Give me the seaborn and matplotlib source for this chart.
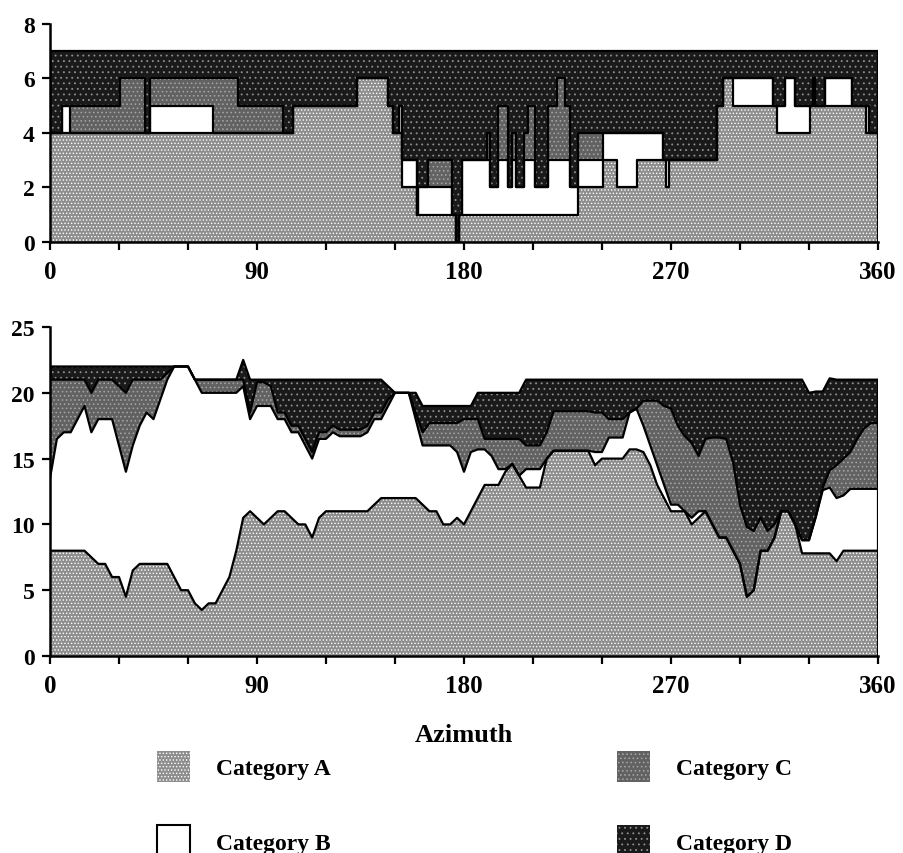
import numpy as np
import matplotlib
matplotlib.use("Agg")
import matplotlib.pyplot as plt
import matplotlib.patches as mpatches
import seaborn as sns

# top panel: counts per category, constant between azimuth edges
top_edges = [0, 5.1, 8.7, 30.4, 41.3, 43.5, 71, 81.9, 101.4, 105.8,
             133.3, 147, 149.3, 151.9, 152.9, 159.4, 160.1, 164.4, 174.6, 176.5,
             177.7, 179, 190, 191.3, 195, 199.3, 200.7, 202.6, 206.1, 208,
             210.9, 216.7, 220.3, 223.9, 226.1, 229.7, 240.6, 246.4, 255.1, 266.7,
             267.8, 269.3, 289.9, 292.7, 297.1, 314.5, 316, 319.6, 323.9, 330.4,
             331.6, 332.6, 337, 348.6, 354.8, 356.2, 360]
top_A = [4, 4, 4, 4, 4, 4, 4, 4, 4, 5,
         6, 5, 4, 4, 2, 1, 1, 1, 1, 0,
         1, 1, 1, 1, 1, 1, 1, 1, 1, 1,
         1, 1, 1, 1, 1, 2, 3, 2, 3, 3,
         2, 3, 5, 6, 5, 5, 4, 4, 4, 5,
         5, 5, 5, 5, 4, 4]
top_B = [0, 1, 0, 0, 0, 1, 0, 0, 0, 0,
         0, 0, 0, 1, 1, 0, 1, 1, 0, 0,
         0, 2, 2, 1, 2, 1, 2, 1, 2, 2,
         1, 2, 2, 2, 1, 1, 1, 2, 1, 0,
         1, 0, 0, 0, 1, 0, 1, 2, 1, 0,
         1, 0, 1, 0, 1, 0]
top_C = [0, 0, 1, 2, 0, 1, 2, 1, 0, 0,
         0, 0, 0, 0, 0, 0, 0, 1, 0, 0,
         0, 0, 1, 0, 2, 0, 1, 0, 1, 2,
         0, 2, 3, 2, 0, 1, 0, 0, 0, 0,
         0, 0, 0, 0, 0, 0, 0, 0, 0, 0,
         0, 0, 0, 0, 0, 0]
top_D = [3, 2, 2, 1, 3, 1, 1, 2, 3, 2,
         1, 2, 3, 2, 4, 6, 5, 4, 6, 7,
         6, 4, 3, 5, 2, 5, 3, 5, 3, 2,
         5, 2, 1, 2, 5, 3, 3, 3, 3, 4,
         4, 4, 2, 1, 1, 2, 2, 1, 2, 2,
         1, 2, 1, 2, 2, 3]

# bottom panel: values every 3 degrees of azimuth
bot_az = list(range(0, 361, 3))
bot_A = [8, 8, 8, 8, 8, 8, 7.5, 7, 7, 6,
         6, 4.5, 6.5, 7, 7, 7, 7, 7, 6, 5,
         5, 4, 3.5, 4, 4, 5, 6, 8, 10.5, 11,
         10.5, 10, 10.5, 11, 11, 10.5, 10, 10, 9, 10.5,
         11, 11, 11, 11, 11, 11, 11, 11.5, 12, 12,
         12, 12, 12, 12, 11.5, 11, 11, 10, 10, 10.5,
         10, 11, 12, 13, 13, 13, 14, 14.6, 13.7, 12.8,
         12.8, 12.8, 15, 15.6, 15.6, 15.6, 15.6, 15.6, 15.6, 14.5,
         15, 15, 15, 15, 15.7, 15.7, 15.5, 14.5, 13, 12,
         11, 11, 11, 10, 10.5, 11, 10, 9, 9, 8,
         7, 4.5, 5, 8, 8, 9, 11, 11, 10, 7.8,
         7.8, 7.8, 7.8, 7.8, 7.2, 8, 8, 8, 8, 8,
         8]
bot_B = [5.5, 8.5, 9, 9, 10, 11, 9.5, 11, 11, 12,
         10, 9.5, 9.5, 10.5, 11.5, 11, 12.5, 14, 16, 17,
         17, 17, 16.5, 16, 16, 15, 14, 12, 10, 7,
         8.5, 9, 8.5, 7, 7, 6.5, 7, 6, 6, 6,
         5.5, 6, 5.7, 5.7, 5.7, 5.7, 6, 6.5, 6, 7,
         8, 8, 8, 6, 4.5, 5, 5, 6, 6, 5,
         4, 4.5, 3.7, 2.7, 2.2, 1.2, 0.2, 0, 0, 1.4,
         1.4, 1.4, 0, 0, 0, 0, 0, 0, 0, 1,
         0.5, 1.6, 1.6, 1.6, 2.8, 3.1, 2, 1.5, 1.5, 1,
         0.5, 0.5, 0, 0.5, 0.5, 0, 0, 0, 0, 0,
         0, 0, 0, 0, 0, 0, 0, 0, 0, 1,
         1, 2.8, 4.8, 5, 4.8, 4.2, 4.7, 4.7, 4.7, 4.7,
         4.7]
bot_C = [7.5, 4.5, 4, 4, 3, 2, 3, 3, 3, 3,
         4.5, 6, 5, 3.5, 2.5, 3, 1.5, 0.5, 0, 0,
         0, 0, 1, 1, 1, 1, 1, 1, 0.5, 0.5,
         1.8, 1.8, 1.5, 0.5, 0.5, 0.5, 0.5, 0.5, 0.5, 0.5,
         0.5, 0.5, 0.5, 0.5, 0.5, 0.5, 0.5, 0.5, 0.5, 0.5,
         0, 0, 0, 0.5, 1, 1.7, 1.7, 1.7, 1.7, 2.2,
         4, 2.5, 2.3, 0.8, 1.3, 2.3, 2.3, 1.9, 2.8, 1.8,
         1.8, 1.8, 2, 3, 3, 3, 3, 3, 3, 3,
         3, 1.4, 1.4, 1.4, 0, 0, 1.9, 3.4, 4.9, 6,
         7.3, 6, 5.7, 5.7, 4.2, 5.5, 6.6, 7.6, 7.5, 6.7,
         4.5, 5.3, 4.5, 2.5, 1.5, 1, 0, 0, 0, 0,
         0, 0, 0.2, 1.3, 2.5, 2.8, 2.8, 3.8, 4.6, 5,
         5]
bot_D = [1, 1, 1, 1, 1, 1, 2, 1, 1, 1,
         1.5, 2, 1, 1, 1, 1, 1, 0.5, 0, 0,
         0, 0, 0, 0, 0, 0, 0, 0, 1.5, 2.5,
         0.2, 0.2, 0.5, 2.5, 2.5, 3.5, 3.5, 4.5, 5.5, 4,
         4, 3.5, 3.8, 3.8, 3.8, 3.8, 3.5, 2.5, 2.5, 1,
         0, 0, 0, 1.5, 2, 1.3, 1.3, 1.3, 1.3, 1.3,
         1, 1, 2, 3.5, 3.5, 3.5, 3.5, 3.5, 3.5, 5,
         5, 5, 4, 2.4, 2.4, 2.4, 2.4, 2.4, 2.4, 2.5,
         2.5, 3, 3, 3, 2.5, 2.2, 1.6, 1.6, 1.6, 2,
         2.2, 3.5, 4.3, 4.8, 5.8, 4.5, 4.4, 4.4, 4.5, 6.3,
         9.5, 11.2, 11.5, 10.5, 11.5, 11, 10, 10, 11, 12.2,
         11.2, 9.5, 7.3, 7, 6.5, 6, 5.5, 4.5, 3.7, 3.3,
         3.3]

categories = ["Category A", "Category B", "Category C", "Category D"]
top_ticks = [0, 2, 4, 6, 8]
bot_ticks = [0, 5, 10, 15, 20, 25]
az_ticks = list(range(0, 361, 30))

fill_styles = [
    dict(facecolor="#8e8e8e", edgecolor="white", hatch="....."),
    dict(facecolor="white", edgecolor="white"),
    dict(facecolor="#626262", edgecolor="#a8a8a8", hatch="...."),
    dict(facecolor="#1a1a1a", edgecolor="#909090", hatch="..."),
]

sns.set_theme(style="ticks")
plt.rcParams["font.family"] = ["Liberation Serif", "DejaVu Serif"]
plt.rcParams["font.weight"] = "bold"
plt.rcParams["text.color"] = "black"
plt.rcParams["axes.labelcolor"] = "black"
plt.rcParams["hatch.linewidth"] = 0.6
plt.rcParams["patch.force_edgecolor"] = False

fig = plt.figure(figsize=(9.04, 8.54), dpi=100)
ax1 = fig.add_axes([0.0553, 0.7155, 0.9159, 0.2553])
ax2 = fig.add_axes([0.0553, 0.2307, 0.9159, 0.3852])


def stack_layers(ax, x, layers, step):
    base = np.zeros(len(x))
    tops = []
    for vals, st in zip(layers, fill_styles):
        v = np.asarray(vals, float)
        ax.fill_between(x, base, base + v, step=step, linewidth=0, **st)
        base = base + v
        tops.append(base.copy())
    for top in tops:
        sns.lineplot(x=x, y=top, ax=ax, color="black", linewidth=1.6,
                     estimator=None, sort=False,
                     drawstyle="steps-post" if step else "default")
    ax.plot([x[-1], x[-1]], [0, tops[-1][-1]], color="black", linewidth=1.6)


tx = np.array(top_edges, float)
top_layers = [np.append(v, v[-1]) for v in (top_A, top_B, top_C, top_D)]
stack_layers(ax1, tx, top_layers, "post")

bx = np.array(bot_az, float)
stack_layers(ax2, bx, [bot_A, bot_B, bot_C, bot_D], None)

for ax, yt in ((ax1, top_ticks), (ax2, bot_ticks)):
    ax.set_xlim(0, 360)
    ax.set_ylim(yt[0], yt[-1])
    ax.set_yticks(yt)
    ax.set_yticklabels([str(t) for t in yt], fontsize=17, fontweight="bold")
    ax.set_xticks(az_ticks)
    ax.set_xticklabels([str(t) if t % 90 == 0 else "" for t in az_ticks],
                       fontsize=18, fontweight="bold")
    sns.despine(ax=ax)
    for s in ("left", "bottom"):
        ax.spines[s].set_linewidth(1.8)
        ax.spines[s].set_color("black")
    ax.tick_params(axis="both", direction="out", length=6, width=1.6,
                   color="black", labelcolor="black")
    ax.tick_params(axis="x", pad=7)
    ax.tick_params(axis="y", pad=5)
    ax.set_ylabel("")
    ax.set_xlabel("")

ax2.set_xlabel("Azimuth", fontsize=19, fontweight="bold", labelpad=19)

handles = []
for st in fill_styles:
    handles.append(mpatches.Patch(linewidth=0, **st))
handles[1] = mpatches.Patch(facecolor="white", edgecolor="black", linewidth=1.5)

leg_kw = dict(frameon=False, fontsize=17, handlelength=1.4, handleheight=1.7,
              handletextpad=1.1, labelspacing=1.8, borderpad=0,
              borderaxespad=0, loc="upper left")
fig.legend(handles[:2], categories[:2], bbox_to_anchor=(0.174, 0.12), **leg_kw)
fig.legend(handles[2:], categories[2:], bbox_to_anchor=(0.682, 0.12), **leg_kw)

fig.savefig("out.png", dpi=100)
